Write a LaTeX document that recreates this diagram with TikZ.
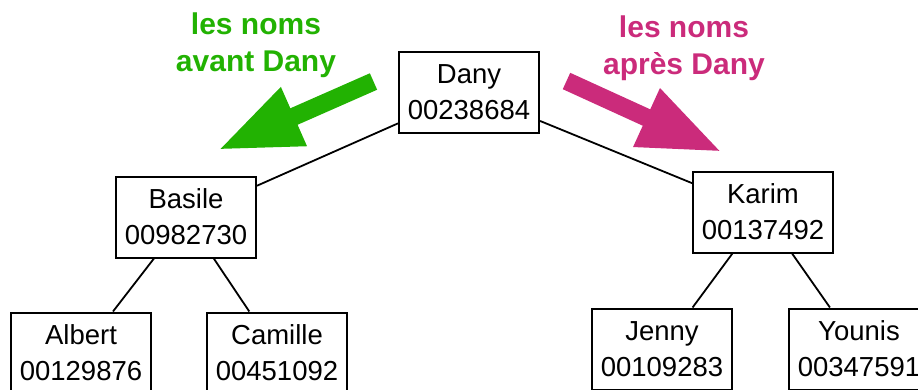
\documentclass[tikz,border=0pt]{standalone}
\usepackage{fontspec}
\setmainfont{Liberation Sans}
\usetikzlibrary{positioning, arrows.meta}
\definecolor{avantgreen}{RGB}{34,178,2}
\definecolor{aprespink}{RGB}{203,43,123}

\begin{document}
\begin{tikzpicture}[x=1pt, y=-1pt,
	namebox/.style={draw, line width=2pt, minimum width=140pt, minimum height=81pt, inner sep=0pt, align=center, fill=white, font=\fontsize{27.5pt}{36pt}\selectfont},
	link/.style={line width=1.8pt},
	label/.style={align=center, font=\fontsize{30pt}{37pt}\selectfont\bfseries},
	bigarrow/.style={line width=18pt, -{Triangle[length=83pt, width=59pt]}}]
	
	\useasboundingbox (0,0) rectangle (918,389);
	\clip (0,0) rectangle (918,389);
	
	% racine et premier niveau
	\node[namebox] (dany) at (469,92) {Dany\\00238684};
	\node[namebox, below left=42pt and 141pt of dany] (basile) {Basile\\00982730};
	\node[namebox, below right=37pt and 152pt of dany] (karim) {Karim\\00137492};
	
	% feuilles
	\node[namebox, below=53pt of basile, xshift=-105pt] (albert) {Albert\\00129876};
	\node[namebox, below=53pt of basile, xshift=91pt] (camille) {Camille\\00451092};
	\node[namebox, below=54pt of karim, xshift=-101pt] (jenny) {Jenny\\00109283};
	\node[namebox, below=54pt of karim, xshift=96pt] (younis) {Younis\\00347591};
	
	\draw[link] (dany) -- (basile);
	\draw[link] (dany) -- (karim);
	\draw[link] (basile) -- (albert);
	\draw[link] (basile) -- (camille);
	\draw[link] (karim) -- (jenny);
	\draw[link] (karim) -- (younis);
	
	% indications
	\node[label, text=avantgreen] (avant_lbl) at (256,45) {les noms\\avant Dany};
	\node[label, text=aprespink] (apres_lbl) at (684,48) {les noms\\après Dany};
	
	\coordinate (avant_tail) at (373.5,81.5);
	\coordinate (avant_tip) at (218,150);
	\coordinate (apres_tail) at (566.5,81);
	\coordinate (apres_tip) at (722,152);
	\draw[bigarrow, avantgreen] (avant_tail) -- (avant_tip);
	\draw[bigarrow, aprespink] (apres_tail) -- (apres_tip);
\end{tikzpicture}
\end{document}
